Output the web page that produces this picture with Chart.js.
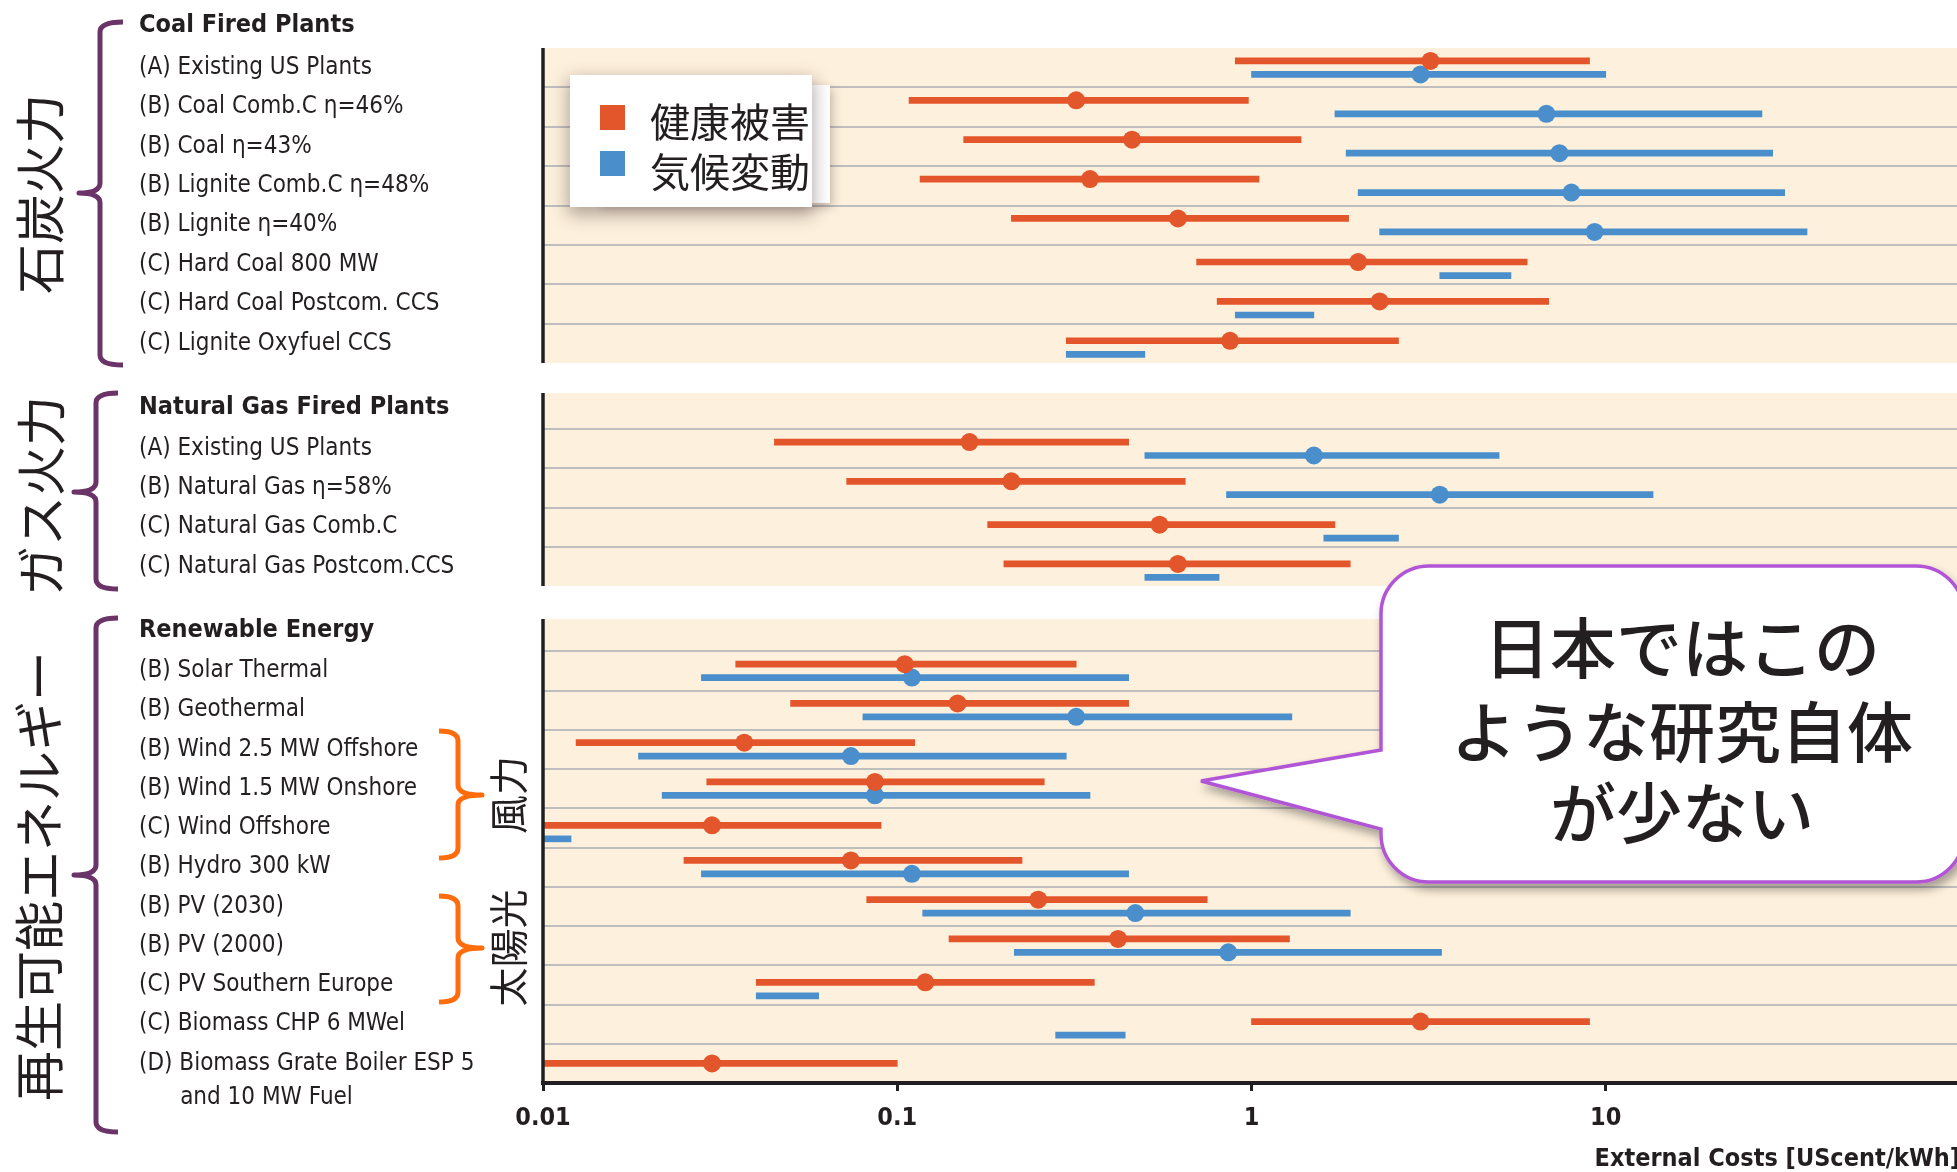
<!DOCTYPE html>
<html lang="ja">
<head>
<meta charset="utf-8">
<title>External Costs [UScent/kWh]</title>
<script src="https://cdn.jsdelivr.net/npm/chart.js@4.4.1/dist/chart.umd.min.js"></script>
<style>
  html, body { margin: 0; padding: 0; background: #fff; }
  body { width: 1957px; height: 1172px; overflow: hidden; position: relative; }
  canvas.panel { position: absolute; left: 0; }
  .hdr { position: absolute; left: 139px; font-family: 'DejaVu Sans Condensed', 'Liberation Sans Narrow', sans-serif;
         font-weight: bold; font-size: 25px; line-height: 25px; color: #231f20; white-space: nowrap; }
  .ja { font-family: 'Noto Sans CJK JP', sans-serif; color: #231f20; white-space: nowrap; }
  .rot { position: absolute; line-height: 1; transform: translate(-50%, -50%) rotate(-90deg); }
  #overlay { position: absolute; left: 0; top: 0; pointer-events: none; }
  #legendBack { position: absolute; left: 600px; top: 85px; width: 230px; height: 118px; background: #fff;
                box-shadow: 2px 4px 10px rgba(60, 40, 40, 0.3); }
  #legend { position: absolute; left: 570px; top: 75px; width: 242px; height: 132px; background: #fff;
            box-shadow: 0 6px 16px 2px rgba(70, 50, 50, 0.4); }
  #legend .sw { position: absolute; left: 30px; width: 25px; height: 25px; }
  #legend .tx { position: absolute; left: 80px; font-size: 40px; line-height: 40px; }
  .callout { position: absolute; font-size: 66px; font-weight: 500; line-height: 66px; transform: translateX(-50%); }
</style>
</head>
<body>
<canvas id="coalChart" class="panel"></canvas>
<canvas id="gasChart" class="panel"></canvas>
<canvas id="renewChart" class="panel"></canvas>
<svg id="overlay" width="1957" height="1172" xmlns="http://www.w3.org/2000/svg"></svg>
<div id="labels"></div>
<script>
// ---------------------------------------------------------------------------
// Data: external costs in UScent/kWh, low / central / high estimates
// ---------------------------------------------------------------------------
const seriesNames = ['健康被害', '気候変動'];

const coalCategories = [
  '(A) Existing US Plants', '(B) Coal Comb.C η=46%', '(B) Coal η=43%', '(B) Lignite Comb.C η=48%',
  '(B) Lignite η=40%', '(C) Hard Coal 800 MW', '(C) Hard Coal Postcom. CCS', '(C) Lignite Oxyfuel CCS'
];
const coalHealthLow   = [0.9, 0.108, 0.154, 0.116, 0.21, 0.70, 0.80, 0.30];
const coalHealthMid   = [3.2, 0.32, 0.46, 0.35, 0.62, 2.0, 2.3, 0.87];
const coalHealthHigh  = [9.0, 0.98, 1.38, 1.05, 1.88, 6.0, 6.9, 2.6];
const coalClimateLow  = [1.0, 1.72, 1.85, 2.0, 2.3, 3.4, 0.9, 0.30];
const coalClimateMid  = [3.0, 6.8, 7.4, 8.0, 9.3, null, null, null];
const coalClimateHigh = [10, 27.6, 29.6, 32, 37, 5.4, 1.5, 0.50];

const gasCategories = [
  '', '(A) Existing US Plants', '(B) Natural Gas η=58%', '(C) Natural Gas Comb.C', '(C) Natural Gas Postcom.CCS'
];
const gasHealthLow   = [null, 0.045, 0.072, 0.18, 0.20];
const gasHealthMid   = [null, 0.16, 0.21, 0.55, 0.62];
const gasHealthHigh  = [null, 0.45, 0.65, 1.72, 1.9];
const gasClimateLow  = [null, 0.5, 0.85, 1.6, 0.5];
const gasClimateMid  = [null, 1.5, 3.4, null, null];
const gasClimateHigh = [null, 5.0, 13.6, 2.6, 0.81];

const renewCategories = [
  '', '(B) Solar Thermal', '(B) Geothermal', '(B) Wind 2.5 MW Offshore', '(B) Wind 1.5 MW Onshore',
  '(C) Wind Offshore', '(B) Hydro 300 kW', '(B) PV (2030)', '(B) PV (2000)', '(C) PV Southern Europe',
  '(C) Biomass CHP 6 MWel', ['(D) Biomass Grate Boiler ESP 5', 'and 10 MW Fuel']
];
const renewHealthLow   = [null, 0.035, 0.05, 0.0124, 0.029, 0.01, 0.025, 0.082, 0.14, 0.04, 1.0, 0.01];
const renewHealthMid   = [null, 0.105, 0.148, 0.037, 0.0865, 0.03, 0.074, 0.25, 0.42, 0.12, 3.0, 0.03];
const renewHealthHigh  = [null, 0.32, 0.45, 0.112, 0.26, 0.09, 0.225, 0.75, 1.28, 0.36, 9.0, 0.10];
const renewClimateLow  = [null, 0.028, 0.08, 0.0186, 0.0217, 0.01, 0.028, 0.118, 0.214, 0.04, 0.28, null];
const renewClimateMid  = [null, 0.11, 0.32, 0.074, 0.0865, null, 0.11, 0.47, 0.86, null, null, null];
const renewClimateHigh = [null, 0.45, 1.3, 0.30, 0.35, 0.012, 0.45, 1.9, 3.44, 0.06, 0.44, null];

const xTickValues = [0.01, 0.1, 1, 10];
const xTickLabels = ['0.01', '0.1', '1', '10'];
const xAxisTitle = 'External Costs [UScent/kWh]';

const groupTitles = ['Coal Fired Plants', 'Natural Gas Fired Plants', 'Renewable Energy'];
const groupNamesJa = ['石炭火力', 'ガス火力', '再生可能エネルギー'];
const subgroupNamesJa = ['風力', '太陽光'];
const calloutLines = ['日本ではこの', 'ような研究自体', 'が少ない'];

// ---------------------------------------------------------------------------
// Styling
// ---------------------------------------------------------------------------
const COLORS = {
  health: '#E3552A', climate: '#4A8FCB', paper: '#FDF0DC', grid: '#BEBEBE',
  ink: '#231F20', purple: '#6B3468', orange: '#FF6C0C', bubble: '#B155D6'
};
const NARROW = "'DejaVu Sans Condensed', 'Liberation Sans Narrow', sans-serif";
const CANVAS_W = 1960;
const LABEL_LEFT = 139;     // left edge of the row labels
const PLOT_LEFT = 543;      // x position of the 0.01 axis
// vertical placement of the two bars inside a row, as a fraction of the row height
const ROW_PAIR = 0.171;     // both series with a central value
const ROW_NUDGE = 0.064;    // health bar when the climate entry is a bare range
const ROW_LOW = 0.28;       // climate bare range

// draws the cream plot background and the left axis line
const panelBackdrop = {
  id: 'panelBackdrop',
  beforeDraw(chart, _args, o) {
    const { ctx, chartArea: a } = chart;
    ctx.save();
    ctx.fillStyle = o.color;
    ctx.fillRect(a.left, a.top + o.inset, a.right - a.left, a.bottom - a.top - o.inset);
    ctx.restore();
  },
  afterDatasetsDraw(chart, _args, o) {
    const { ctx, chartArea: a } = chart;
    ctx.save();
    ctx.strokeStyle = o.lineColor;
    ctx.lineWidth = o.lineWidth;
    ctx.beginPath();
    ctx.moveTo(a.left, a.top + o.inset);
    ctx.lineTo(a.left, a.bottom + o.extend);
    ctx.stroke();
    ctx.restore();
  }
};

function tickText(label) {
  if (Array.isArray(label)) {
    // first line sits on the row centre, continuation lines hang below it, indented
    return ['', label[0], ...label.slice(1).map(l => '\u00a0'.repeat(6) + l)];
  }
  return label;
}

function buildDatasets(p) {
  const hb = [], cb = [], hd = [], cd = [];
  p.categories.forEach((_, i) => {
    const hasH = p.healthLow[i] != null;
    const hasC = p.climateLow[i] != null;
    let hOff = 0, cOff = 0;
    if (hasH && hasC) {
      if (p.climateMid[i] != null) { hOff = -ROW_PAIR; cOff = ROW_PAIR; }
      else { hOff = -ROW_NUDGE; cOff = ROW_LOW; }
    }
    if (hasH) {
      hb.push({ x: [p.healthLow[i], p.healthHigh[i]], y: i + hOff });
      if (p.healthMid[i] != null) hd.push({ x: p.healthMid[i], y: i + hOff });
    }
    if (hasC) {
      cb.push({ x: [p.climateLow[i], p.climateHigh[i]], y: i + cOff });
      if (p.climateMid[i] != null) cd.push({ x: p.climateMid[i], y: i + cOff });
    }
  });
  const dot = (label, data, color, order) => ({
    type: 'scatter', label, data, xAxisID: 'x', yAxisID: 'yp', order,
    pointRadius: 9, pointHoverRadius: 9, pointBackgroundColor: color, pointBorderWidth: 0
  });
  const bar = (label, data, color, order) => ({
    type: 'bar', label, data, xAxisID: 'x', yAxisID: 'yp', order,
    backgroundColor: color, barThickness: 6, grouped: false, borderWidth: 0, borderSkipped: false
  });
  return [
    dot(seriesNames[0], hd, COLORS.health, 0),
    dot(seriesNames[1], cd, COLORS.climate, 1),
    bar(seriesNames[0], hb, COLORS.health, 2),
    bar(seriesNames[1], cb, COLORS.climate, 3)
  ];
}

function makePanel(p) {
  const canvas = document.getElementById(p.id);
  canvas.width = CANVAS_W;
  canvas.height = p.height;
  canvas.style.top = p.top + 'px';
  canvas.style.width = CANVAS_W + 'px';
  canvas.style.height = p.height + 'px';
  const n = p.categories.length;
  return new Chart(canvas, {
    type: 'bar',
    data: { labels: p.categories, datasets: buildDatasets(p) },
    options: {
      responsive: false,
      animation: false,
      events: [],
      indexAxis: 'y',
      layout: { autoPadding: false, padding: { left: LABEL_LEFT, right: 0, top: p.padTop, bottom: p.padBottom } },
      plugins: {
        legend: { display: false },
        tooltip: { enabled: false },
        panelBackdrop: { color: COLORS.paper, inset: p.inset, lineColor: COLORS.ink, lineWidth: 3.5, extend: p.showX ? 2 : 0 }
      },
      scales: {
        x: {
          type: 'logarithmic', position: 'bottom', min: 0.01, max: 100, display: p.showX,
          afterBuildTicks: s => { s.ticks = xTickValues.map(v => ({ value: v, major: true })); },
          afterFit: s => {
            if (p.showX) s.height = p.xAxisHeight;
            s.paddingLeft = 0; s.paddingRight = 0;
          },
          grid: { drawOnChartArea: false, drawTicks: true, tickLength: 8, tickWidth: 3, tickColor: COLORS.ink, color: COLORS.ink },
          border: { display: true, color: COLORS.ink, width: 4 },
          ticks: {
            autoSkip: false, maxRotation: 0, padding: 12, color: COLORS.ink,
            font: { family: NARROW, size: 25, weight: 'bold' },
            callback: (v, i) => xTickLabels[i]
          },
          title: {
            display: true, text: xAxisTitle, align: 'end', color: COLORS.ink,
            font: { family: NARROW, size: 25, weight: 'bold', lineHeight: 1.0 }, padding: { top: 0, bottom: 0 }
          }
        },
        y: {
          type: 'category', position: 'left', offset: true,
          grid: {
            offset: true, lineWidth: 2, drawTicks: false,
            color: c => (c.type === 'tick' && c.index > 0) ? COLORS.grid : 'rgba(0,0,0,0)'
          },
          border: { display: false },
          ticks: {
            crossAlign: 'far', padding: 0, autoSkip: false, color: COLORS.ink,
            font: { family: NARROW, size: 24, lineHeight: 1.42 },
            callback: (v, i) => tickText(p.categories[i])
          },
          afterFit: s => {
            s.width = PLOT_LEFT - LABEL_LEFT;
            s.paddingTop = 0; s.paddingBottom = 0;
          }
        },
        yp: {
          type: 'linear', axis: 'y', position: 'left', display: false, offset: false,
          min: -0.5, max: n - 0.5, reverse: true
        }
      }
    },
    plugins: [panelBackdrop]
  });
}

makePanel({
  id: 'coalChart', top: 30, height: 343, padTop: 18, padBottom: 10, inset: 0, showX: false,
  categories: coalCategories, healthLow: coalHealthLow, healthMid: coalHealthMid, healthHigh: coalHealthHigh,
  climateLow: coalClimateLow, climateMid: coalClimateMid, climateHigh: coalClimateHigh
});
makePanel({
  id: 'gasChart', top: 380, height: 216, padTop: 10, padBottom: 10, inset: 3, showX: false,
  categories: gasCategories, healthLow: gasHealthLow, healthMid: gasHealthMid, healthHigh: gasHealthHigh,
  climateLow: gasClimateLow, climateMid: gasClimateMid, climateHigh: gasClimateHigh
});
makePanel({
  id: 'renewChart', top: 600, height: 572, padTop: 12, padBottom: 0, inset: 7, showX: true, xAxisHeight: 89,
  categories: renewCategories, healthLow: renewHealthLow, healthMid: renewHealthMid, healthHigh: renewHealthHigh,
  climateLow: renewClimateLow, climateMid: renewClimateMid, climateHigh: renewClimateHigh
});

// ---------------------------------------------------------------------------
// Annotations: group headers, braces, rotated group names, legend, callout
// ---------------------------------------------------------------------------
const labels = document.getElementById('labels');
function addDiv(cls, text, style) {
  const d = document.createElement('div');
  d.className = cls;
  d.textContent = text;
  Object.assign(d.style, style);
  labels.appendChild(d);
  return d;
}

[23, 405, 628].forEach((cy, i) => addDiv('hdr', groupTitles[i], { top: (cy - 12.5) + 'px' }));

[[40, 194], [41, 496], [39, 876]].forEach(([cx, cy], i) =>
  addDiv('ja rot', groupNamesJa[i], { left: (cx - 3) + 'px', top: cy + 'px', fontSize: '50px' }));
[[508, 795], [508, 948]].forEach(([cx, cy], i) =>
  addDiv('ja rot', subgroupNamesJa[i], { left: (cx - 2) + 'px', top: cy + 'px', fontSize: '39px' }));

const svg = document.getElementById('overlay');
const NS = 'http://www.w3.org/2000/svg';
function brace(xArm, xLine, xTip, yTop, yMid, yBot, color) {
  const r = 10;
  const d = `M${xArm},${yTop} Q${xLine},${yTop} ${xLine},${yTop + r} L${xLine},${yMid - r} ` +
            `Q${xLine},${yMid} ${xTip},${yMid} Q${xLine},${yMid} ${xLine},${yMid + r} ` +
            `L${xLine},${yBot - r} Q${xLine},${yBot} ${xArm},${yBot}`;
  const path = document.createElementNS(NS, 'path');
  path.setAttribute('d', d);
  path.setAttribute('fill', 'none');
  path.setAttribute('stroke', color);
  path.setAttribute('stroke-width', '5');
  path.setAttribute('stroke-linejoin', 'round');
  svg.appendChild(path);
}
brace(123, 100, 79, 22, 193, 365, COLORS.purple);
brace(118, 96, 74, 393, 492, 589, COLORS.purple);
brace(118, 96, 74, 618, 875, 1132, COLORS.purple);
brace(439, 458, 482, 731, 795, 858, COLORS.orange);
brace(439, 458, 482, 896, 948, 1002, COLORS.orange);

// speech bubble
const defs = document.createElementNS(NS, 'defs');
defs.innerHTML = '<filter id="bubbleShadow" x="-10%" y="-10%" width="130%" height="140%">' +
  '<feDropShadow dx="3" dy="6" stdDeviation="5" flood-color="#000" flood-opacity="0.35"/></filter>';
svg.appendChild(defs);
(function () {
  const x1 = 1381, y1 = 566, x2 = 1964, y2 = 882, r = 48;
  const d = `M${x1 + r},${y1} H${x2 - r} A${r},${r} 0 0 1 ${x2},${y1 + r} V${y2 - r} ` +
            `A${r},${r} 0 0 1 ${x2 - r},${y2} H${x1 + r} A${r},${r} 0 0 1 ${x1},${y2 - r} ` +
            `V829 L1201,781 L${x1},750 V${y1 + r} A${r},${r} 0 0 1 ${x1 + r},${y1} Z`;
  const path = document.createElementNS(NS, 'path');
  path.setAttribute('d', d);
  path.setAttribute('fill', '#fff');
  path.setAttribute('stroke', COLORS.bubble);
  path.setAttribute('stroke-width', '3.5');
  path.setAttribute('filter', 'url(#bubbleShadow)');
  svg.appendChild(path);
})();
[648, 732, 813].forEach((cy, i) =>
  addDiv('ja callout', calloutLines[i], { left: '1682px', top: (cy - 37) + 'px' }));

// legend
const legBack = document.createElement('div');
legBack.id = 'legendBack';
labels.appendChild(legBack);
const legend = document.createElement('div');
legend.id = 'legend';
labels.appendChild(legend);
[COLORS.health, COLORS.climate].forEach((color, i) => {
  const sw = document.createElement('div');
  sw.className = 'sw';
  sw.style.top = (30 + i * 46) + 'px';
  sw.style.background = color;
  legend.appendChild(sw);
  const tx = document.createElement('div');
  tx.className = 'tx ja';
  tx.style.top = (47 + i * 50 - 22) + 'px';
  tx.textContent = seriesNames[i];
  legend.appendChild(tx);
});
</script>
</body>
</html>
